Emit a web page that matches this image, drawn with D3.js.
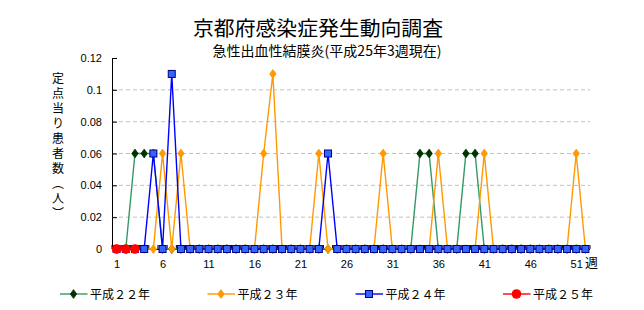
<!DOCTYPE html>
<html><head><meta charset="utf-8">
<script src="https://cdn.jsdelivr.net/npm/d3@7"></script>
<style>
html,body{margin:0;padding:0;background:#fff;}
text{font-family:"Liberation Sans","Noto Sans CJK JP",sans-serif;}
.jp{font-family:"Noto Sans CJK JP",sans-serif;}
</style></head>
<body>
<svg id="c" width="644" height="310"></svg>
<script>
const weeks = d3.range(1, 53);
const seriesNames = ["平成２２年", "平成２３年", "平成２４年", "平成２５年"];
// values per week (index 0 = week 1)
const h22 = [0,0,0.06,0.06,0.06,0,0,0,0,0,0,0,0,0,0,0,0,0,0,0,0,0,0,0,0,0,0,0,0,0,0,0,0,0.06,0.06,0,0,0,0.06,0.06,0,0,0,0,0,0,0,0,0,0,0,0];
const h23 = [0,0,0,0,0,0.06,0,0.06,0,0,0,0,0,0,0,0,0.06,0.11,0,0,0,0,0.06,0,0,0,0,0,0,0.06,0,0,0,0,0,0.06,0,0,0,0,0.06,0,0,0,0,0,0,0,0,0,0.06,0];
const h24 = [0,0,0,0,0.06,0,0.11,0,0,0,0,0,0,0,0,0,0,0,0,0,0,0,0,0.06,0,0,0,0,0,0,0,0,0,0,0,0,0,0,0,0,0,0,0,0,0,0,0,0,0,0,0,0];
const h25 = [0,0,0];
const yTicks = [0, 0.02, 0.04, 0.06, 0.08, 0.1, 0.12];
const xTickLabels = [1, 6, 11, 16, 21, 26, 31, 36, 41, 46, 51];

const svg = d3.select("#c");
const x = d3.scaleBand().domain(weeks).range([112, 590]).padding(0);
const y = d3.scaleLinear().domain([0, 0.12]).range([249, 58]);
const cx = w => x(w) + x.bandwidth() / 2;

// titles
svg.append("text").attr("class","jp").attr("x",318).attr("y",36).attr("text-anchor","middle")
  .attr("font-size",20).attr("textLength",250).attr("lengthAdjust","spacingAndGlyphs")
  .text("京都府感染症発生動向調査");
svg.append("text").attr("class","jp").attr("x",327).attr("y",56).attr("text-anchor","middle")
  .attr("font-size",14).attr("textLength",229).attr("lengthAdjust","spacingAndGlyphs")
  .text("急性出血性結膜炎(平成25年3週現在)");

// gridlines
svg.append("g").selectAll("line").data(yTicks.filter(d => d > 0 && d < 0.12)).join("line")
  .attr("x1",112).attr("x2",590).attr("y1",d=>y(d)).attr("y2",d=>y(d))
  .attr("stroke","#c0c0c0").attr("stroke-dasharray","4,3").attr("stroke-width",1);

// y axis
const ya = svg.append("g").attr("transform","translate(112,0)")
  .call(d3.axisLeft(y).tickValues(yTicks).tickSizeInner(-5).tickSizeOuter(0).tickPadding(10)
    .tickFormat(d => d === 0 ? "0" : String(+d.toFixed(2))));
ya.select(".domain").attr("stroke","#000");
ya.selectAll(".tick line").attr("stroke","#000");
ya.selectAll("text").attr("font-size",11).attr("font-family","Liberation Sans, sans-serif").attr("fill","#000");

// x axis
const boundaries = weeks.map(w => x(w)).concat([590]);
svg.append("g").selectAll("line").data(boundaries).join("line")
  .attr("x1",d=>d).attr("x2",d=>d).attr("y1",249).attr("y2",245).attr("stroke","#000");
svg.append("line").attr("x1",112).attr("x2",590).attr("y1",249.5).attr("y2",249.5).attr("stroke","#000");
const xa = svg.append("g").attr("transform","translate(0,249)")
  .call(d3.axisBottom(d3.scalePoint().domain(weeks).range([cx(1), cx(52)])).tickValues(xTickLabels).tickSize(0).tickPadding(11));
xa.select(".domain").remove();
xa.selectAll("text").attr("font-size",11).attr("font-family","Liberation Sans, sans-serif").attr("fill","#000");
svg.append("text").attr("class","jp").attr("x",585).attr("y",267).attr("font-size",13).text("週");

// y title (vertical)
svg.append("text").attr("class","jp").attr("x",58).attr("y",72)
  .attr("font-size",12).style("writing-mode","vertical-rl").style("letter-spacing","3px")
  .text("定点当り患者数（人）");

// series
const line = d3.line().x((d,i) => cx(i+1)).y(d => y(d));
const specs = [
  {data:h22, stroke:"#339966", mfill:"#003300", mstroke:"#003300", shape:"diamond"},
  {data:h23, stroke:"#FF9900", mfill:"#FF9900", mstroke:"#FF9900", shape:"diamond"},
  {data:h24, stroke:"#0000FF", mfill:"#3366FF", mstroke:"#000080", shape:"square"},
  {data:h25, stroke:"#FF0000", mfill:"#FF0000", mstroke:"#FF0000", shape:"circle"}
];
function drawMarker(g, s, px, py) {
  if (s.shape === "diamond") {
    g.append("path").attr("d", d3.symbol().type(d3.symbolDiamond).size(22)())
      .attr("transform",`translate(${px},${py}) scale(1.25,1)`).attr("fill",s.mfill).attr("stroke",s.mstroke).attr("stroke-width",0.8);
  } else if (s.shape === "square") {
    g.append("rect").attr("x",px-3.5).attr("y",py-3.5).attr("width",7).attr("height",7)
      .attr("fill",s.mfill).attr("stroke",s.mstroke).attr("stroke-width",1);
  } else {
    g.append("circle").attr("cx",px).attr("cy",py).attr("r",4.8).attr("fill",s.mfill);
  }
}
specs.forEach(s => {
  const g = svg.append("g");
  g.append("path").attr("d", line(s.data)).attr("fill","none").attr("stroke",s.stroke).attr("stroke-width",1.4);
  s.data.forEach((v,i) => drawMarker(g, s, cx(i+1), y(v)));
});

// legend
const legX = [73.5, 221, 369, 516.5];
const lg = svg.append("g");
specs.forEach((s,i) => {
  const mx = legX[i], ly = 294;
  lg.append("line").attr("x1",mx-13.5).attr("x2",mx+14).attr("y1",ly).attr("y2",ly).attr("stroke",s.stroke).attr("stroke-width",1.4);
  drawMarker(lg, s, mx, ly);
  lg.append("text").attr("class","jp").attr("x",mx+16.5).attr("y",ly+4.5).attr("font-size",12)
    .text(seriesNames[i]);
});
</script>
</body></html>
